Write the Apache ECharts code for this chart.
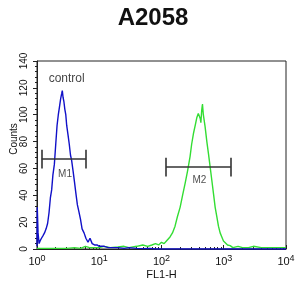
<!DOCTYPE html>
<html><head><meta charset="utf-8">
<script src="https://cdn.jsdelivr.net/npm/echarts@6/dist/echarts.min.js"></script>
<style>html,body{margin:0;padding:0;background:#fff}#c{width:306px;height:291px}</style>
</head><body><div id="c"></div>
<script>
var titleText = 'A2058';
var xName = 'FL1-H';
var yName = 'Counts';
var yTicks = [0, 20, 40, 60, 80, 100, 120, 140];
var xTickExps = [0, 1, 2, 3, 4];

var controlX = [1.0, 1.01, 1.04, 1.08, 1.12, 1.18, 1.25, 1.32, 1.40, 1.48, 1.56, 1.64, 1.72, 1.80, 1.90, 2.00, 2.10, 2.20, 2.30, 2.40, 2.50, 2.55, 2.62, 2.70, 2.80, 2.90, 3.00, 3.15, 3.30, 3.45, 3.60, 3.80, 4.00, 4.20, 4.45, 4.70, 5.00, 5.30, 5.70, 6.10, 6.60, 7.10, 7.70, 8.4, 9.2, 10, 12, 14, 17, 20, 25, 30, 40, 50, 65, 80, 100, 1000, 10000];
var controlY = [2, 31, 12, 4, 6, 8, 10, 12, 15, 19, 27, 38, 44, 55, 63, 78, 92, 100, 106, 112, 116, 118, 113, 110, 104, 100, 92, 85, 78, 70, 66, 58, 50, 42, 33, 28, 22, 15, 12, 8, 5, 8, 4, 3, 3, 2, 2, 1, 1, 1, 0.5, 1, 0.5, 0.3, 0.5, 0, 0, 0, 0];

var sampleX = [1, 2, 3, 4, 5, 6, 7, 8, 10, 12, 15, 20, 25, 30, 40, 50, 60, 70, 80, 90, 100, 110, 120, 137, 150, 165, 180, 199, 218, 240, 262, 288, 305, 326, 348, 370, 390, 407, 420, 429, 442, 455, 470, 502, 535, 568, 605, 644, 685, 728, 775, 822, 875, 931, 990, 1054, 1150, 1268, 1400, 1700, 2000, 2500, 3000, 4000, 5000, 6500, 8000, 10000];
var sampleY = [0.5, 0.5, 0.5, 1, 0.5, 2, 1, 1, 1, 2, 1, 1.5, 2, 1, 2, 3, 2, 3, 4, 3, 5, 4, 6, 9, 12, 17, 24, 31, 40, 49, 58, 69, 78, 86, 92, 98, 101, 102, 97, 94, 103, 108, 100, 91, 80, 71, 61, 51, 41, 31, 24, 17, 12, 9, 6, 5, 3, 2.5, 1, 2, 1, 1, 2, 1, 1, 1, 1, 1];

var gateNames = ['M1', 'M2'];
var gateLo = [1.19, 118];
var gateHi = [6.1, 1300];
var gateY = [67, 61];
var gateCap = [7, 7];
var gateLabelX = [2.82, 407];
var gateLabelY = [56, 51];

var annotText = 'control';
var annotX = 3.0;
var annotY = 127;

function pairs(xs, ys) { return xs.map(function (x, i) { return [x, ys[i]]; }); }

var gateSegs = [];
gateNames.forEach(function (n, i) {
  gateSegs.push({ coords: [[gateLo[i], gateY[i]], [gateHi[i], gateY[i]]] });
  gateSegs.push({ coords: [[gateLo[i], gateY[i] - gateCap[i]], [gateLo[i], gateY[i] + gateCap[i]]] });
  gateSegs.push({ coords: [[gateHi[i], gateY[i] - gateCap[i]], [gateHi[i], gateY[i] + gateCap[i]]] });
});
var gateLabels = gateNames.map(function (n, i) { return { name: n, value: [gateLabelX[i], gateLabelY[i]] }; });

var ff = 'Liberation Sans, Arial, sans-serif';
var chart = echarts.init(document.getElementById('c'), null, { renderer: 'canvas' });
chart.setOption({
  animation: false,
  backgroundColor: '#fff',
  title: { text: titleText, left: 'center', top: 1, textStyle: { fontFamily: ff, fontWeight: 'bold', fontSize: 24, color: '#111' } },
  grid: { left: 37, right: 20, top: 61, bottom: 42, show: true, borderColor: '#222', borderWidth: 1, containLabel: false, outerBoundsMode: 'none' },
  xAxis: {
    type: 'log', logBase: 10, min: Math.pow(10, xTickExps[0]), max: Math.pow(10, xTickExps[xTickExps.length - 1]),
    name: xName, nameLocation: 'middle', nameGap: 20, nameMoveOverlap: false,
    nameTextStyle: { fontFamily: ff, fontSize: 11, color: '#111' },
    axisLine: { show: true, lineStyle: { color: '#222', width: 1 } },
    axisTick: { show: true, inside: true, length: 4, lineStyle: { color: '#222' } },
    minorTick: { show: true, splitNumber: 9, length: 2, lineStyle: { color: '#222' } },
    splitLine: { show: false },
    axisLabel: {
      margin: 5, fontFamily: ff, color: '#111',
      formatter: function (v) { var e = Math.round(Math.log10(v)); return '{b|10}{s|' + e + '}'; },
      rich: { b: { fontSize: 11, fontFamily: ff, color: '#111' }, s: { fontSize: 9, fontFamily: ff, color: '#111', padding: [0, 0, 7, 0] } }
    }
  },
  yAxis: {
    type: 'value', min: yTicks[0], max: yTicks[yTicks.length - 1], interval: yTicks[1] - yTicks[0],
    name: yName, nameLocation: 'middle', nameGap: 18, nameRotate: 90, nameMoveOverlap: false,
    nameTextStyle: { fontFamily: ff, fontSize: 10, color: '#111', padding: [0, 0, 0, 32] },
    axisLine: { show: true, lineStyle: { color: '#222', width: 1 } },
    axisTick: { show: true, inside: false, length: 4, lineStyle: { color: '#222' } },
    minorTick: { show: true, splitNumber: 5, length: 2, lineStyle: { color: '#222' } },
    splitLine: { show: false },
    axisLabel: { rotate: 90, margin: 8, fontFamily: ff, fontSize: 10, color: '#111' }
  },
  series: [
    { type: 'line', data: pairs(sampleX, sampleY), showSymbol: false, symbol: 'none', lineStyle: { color: '#33dd33', width: 1.4 }, z: 3 },
    { type: 'line', data: pairs(controlX, controlY), showSymbol: false, symbol: 'none', lineStyle: { color: '#1010c8', width: 1.4 }, z: 4 },
    { type: 'lines', coordinateSystem: 'cartesian2d', polyline: false, data: gateSegs, lineStyle: { color: '#333', width: 1.6, opacity: 1 }, z: 5 },
    { type: 'scatter', data: gateLabels, symbolSize: 0, label: { show: true, position: 'inside', formatter: '{b}', fontFamily: ff, fontSize: 10, color: '#222' }, z: 6 },
    { type: 'scatter', data: [{ name: annotText, value: [annotX, annotY] }], symbolSize: 0, label: { show: true, position: 'inside', formatter: '{b}', fontFamily: ff, fontSize: 12, color: '#111' }, z: 6 }
  ]
});
</script></body></html>
